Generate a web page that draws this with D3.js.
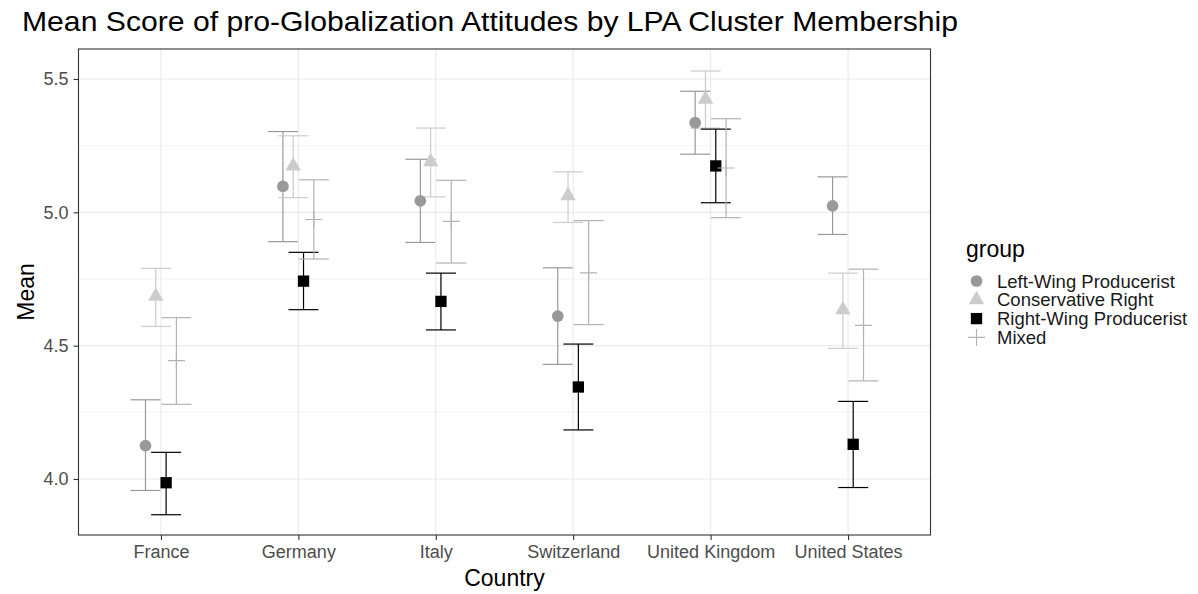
<!DOCTYPE html>
<html>
<head>
<meta charset="utf-8">
<title>Mean Score of pro-Globalization Attitudes</title>
<script src="https://d3js.org/d3.v7.min.js"></script>
<style>
  body { margin: 0; background: #fff; }
  text { font-family: "Liberation Sans", Arial, sans-serif; }
</style>
</head>
<body>
<svg id="chart"></svg>
<script>
// data
const countries = ["France", "Germany", "Italy", "Switzerland", "United Kingdom", "United States"];
const groups = ["Left-Wing Producerist", "Conservative Right", "Right-Wing Producerist", "Mixed"];

const leftMean  = [4.125, 5.097, 5.043, 4.611, 5.336, 5.024];
const leftLo    = [3.957, 4.890, 4.887, 4.430, 5.218, 4.917];
const leftHi    = [4.297, 5.303, 5.199, 4.792, 5.454, 5.133];

const consMean  = [4.685, 5.174, 5.190, 5.062, 5.424, 4.635];
const consLo    = [4.572, 5.055, 5.058, 4.962, 5.316, 4.490];
const consHi    = [4.790, 5.287, 5.316, 5.152, 5.530, 4.772];

const rightMean = [3.986, 4.742, 4.666, 4.345, 5.174, 4.130];
const rightLo   = [3.866, 4.635, 4.559, 4.184, 5.036, 3.968];
const rightHi   = [4.100, 4.850, 4.772, 4.506, 5.312, 4.291];

const mixMean   = [4.444, 4.973, 4.966, 4.773, 5.166, 4.576];
const mixLo     = [4.280, 4.825, 4.810, 4.579, 4.980, 4.368];
const mixHi     = [4.605, 5.122, 5.120, 4.969, 5.351, 4.787];

const yTicks = [4.0, 4.5, 5.0, 5.5];
const yMinor = [4.25, 4.75, 5.25];

const series = [
  { mean: leftMean,  lo: leftLo,  hi: leftHi },
  { mean: consMean,  lo: consLo,  hi: consHi },
  { mean: rightMean, lo: rightLo, hi: rightHi },
  { mean: mixMean,   lo: mixLo,   hi: mixHi }
];
const colors = ["#999999", "#cccccc", "#000000", "#b3b3b3"];
const shapes = ["circle", "triangle", "square", "plus"];

const W = 1198, H = 594;
const panel = { left: 78.5, right: 930.5, top: 49, bottom: 535 };

const svg = d3.select("#chart").attr("width", W).attr("height", H);

const x = d3.scalePoint().domain(countries).range([panel.left, panel.right]).padding(0.6);
const y = d3.scaleLinear().domain([3.79, 5.6125]).range([panel.bottom, panel.top]);

const step = x.step();
const dodge = 0.075 * step;
const capHalf = 0.109 * step;

// grid
const grid = svg.append("g");
grid.selectAll(".minor").data(yMinor).enter().append("line")
  .attr("x1", panel.left).attr("x2", panel.right)
  .attr("y1", d => y(d)).attr("y2", d => y(d))
  .attr("stroke", "#ebebeb").attr("stroke-width", 0.6);
grid.selectAll(".major").data(yTicks).enter().append("line")
  .attr("x1", panel.left).attr("x2", panel.right)
  .attr("y1", d => y(d)).attr("y2", d => y(d))
  .attr("stroke", "#ebebeb").attr("stroke-width", 1.2);
grid.selectAll(".vmajor").data(countries).enter().append("line")
  .attr("x1", d => x(d)).attr("x2", d => x(d))
  .attr("y1", panel.top).attr("y2", panel.bottom)
  .attr("stroke", "#ebebeb").attr("stroke-width", 1.2);

// error bars
const marks = svg.append("g");
series.forEach((s, gi) => {
  const g = marks.append("g");
  const col = colors[gi];
  countries.forEach((c, ci) => {
    const cx = x(c) + (gi - 1.5) * dodge;
    g.append("line").attr("x1", cx).attr("x2", cx)
      .attr("y1", y(s.lo[ci])).attr("y2", y(s.hi[ci]))
      .attr("stroke", col).attr("stroke-width", 1.2);
    [s.lo[ci], s.hi[ci]].forEach(v => {
      g.append("line").attr("x1", cx - capHalf).attr("x2", cx + capHalf)
        .attr("y1", y(v)).attr("y2", y(v))
        .attr("stroke", col).attr("stroke-width", 1.2);
    });
  });
});

function drawShape(sel, shape, col, cx, cy) {
  if (shape === "plus") {
    const h = 8.5;
    sel.append("path")
      .attr("d", `M${cx - h},${cy}H${cx + h}M${cx},${cy - h}V${cy + h}`)
      .attr("stroke", col).attr("stroke-width", 1.1).attr("fill", "none");
    return;
  }
  const type = shape === "circle" ? d3.symbolCircle : shape === "triangle" ? d3.symbolTriangle : d3.symbolSquare;
  const size = shape === "circle" ? 108 : shape === "triangle" ? 104 : 128;
  sel.append("path")
    .attr("d", d3.symbol().type(type).size(size)())
    .attr("transform", `translate(${cx},${cy})`)
    .attr("fill", col);
}

// points
series.forEach((s, gi) => {
  const g = marks.append("g");
  countries.forEach((c, ci) => {
    const cx = x(c) + (gi - 1.5) * dodge;
    drawShape(g, shapes[gi], colors[gi], cx, y(s.mean[ci]));
  });
});

// panel border
svg.append("rect")
  .attr("x", panel.left).attr("y", panel.top)
  .attr("width", panel.right - panel.left).attr("height", panel.bottom - panel.top)
  .attr("fill", "none").attr("stroke", "#333333").attr("stroke-width", 1.1);

// axes
const xAxis = svg.append("g").attr("transform", `translate(0,${panel.bottom})`)
  .call(d3.axisBottom(x).tickSize(5).tickPadding(5));
const yAxis = svg.append("g").attr("transform", `translate(${panel.left},0)`)
  .call(d3.axisLeft(y).tickValues(yTicks).tickFormat(d3.format(".1f")).tickSize(5).tickPadding(5));
[xAxis, yAxis].forEach(a => {
  a.select(".domain").remove();
  a.selectAll(".tick line").attr("stroke", "#333333").attr("stroke-width", 1.1);
  a.selectAll(".tick text").attr("fill", "#4d4d4d").style("font-size", "18px")
    .style("font-family", "'Liberation Sans', Arial, sans-serif");
});

// titles
svg.append("text").attr("x", 22).attr("y", 31)
  .style("font-size", "27.5px").attr("fill", "#000")
  .attr("textLength", 936).attr("lengthAdjust", "spacingAndGlyphs")
  .text("Mean Score of pro-Globalization Attitudes by LPA Cluster Membership");
svg.append("text").attr("x", (panel.left + panel.right) / 2).attr("y", 586)
  .attr("text-anchor", "middle").style("font-size", "23px").attr("fill", "#000")
  .text("Country");
svg.append("text")
  .attr("transform", `translate(34,${(panel.top + panel.bottom) / 2}) rotate(-90)`)
  .attr("text-anchor", "middle").style("font-size", "23px").attr("fill", "#000")
  .text("Mean");

// legend
const legend = svg.append("g").attr("transform", "translate(966,0)");
legend.append("text").attr("x", 0).attr("y", 257).style("font-size", "23px").text("group");
groups.forEach((name, gi) => {
  const ry = 281 + gi * 18.8;
  drawShape(legend, shapes[gi], colors[gi], 10.5, ry);
  legend.append("text").attr("x", 31).attr("y", ry + 6.5)
    .style("font-size", "18.5px").attr("fill", "#1a1a1a").text(name);
});
</script>
</body>
</html>
